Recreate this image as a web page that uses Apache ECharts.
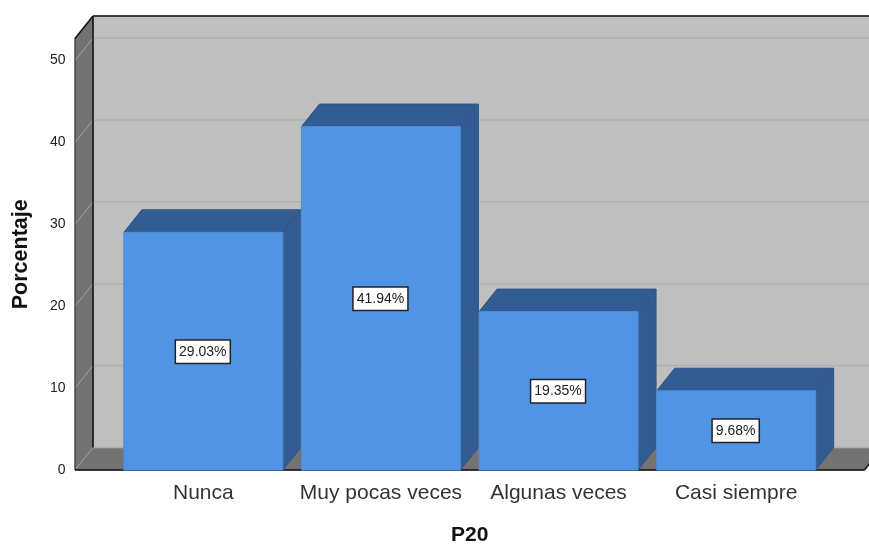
<!DOCTYPE html>
<html>
<head>
<meta charset="utf-8">
<style>
html, body { margin: 0; padding: 0; background: #fff; }
#chart { width: 869px; height: 545px; }
</style>
<script src="https://cdn.jsdelivr.net/npm/echarts@6/dist/echarts.min.js"></script>
</head>
<body>
<div id="chart"></div>
<script>
var categories = ['Nunca', 'Muy pocas veces', 'Algunas veces', 'Casi siempre'];
var percentages = [29.03, 41.94, 19.35, 9.68];
var yTicks = [0, 10, 20, 30, 40, 50];

// 3D look: depth of the box in pixels
var depthX = 18;
var depthY = -22.5;
// the walls go further than the category bands
var wallPad = 39.5;

var fontName = '"Liberation Sans", Arial, sans-serif';

function poly(points, fill, stroke) {
    return {
        type: 'polygon',
        shape: { points: points },
        style: { fill: fill, stroke: stroke || fill, lineWidth: 1 }
    };
}

function line(x1, y1, x2, y2, color, width) {
    return {
        type: 'line',
        shape: { x1: x1, y1: y1, x2: x2, y2: y2 },
        style: { stroke: color, lineWidth: width || 1 }
    };
}

function renderWalls(params, api) {
    var rect = params.coordSys;
    var left = rect.x - wallPad;
    var right = rect.x + rect.width + wallPad;
    var top = rect.y;
    var bottom = rect.y + rect.height;
    var wall = '#737373';
    var kids = [];

    kids.push(poly([[left + depthX, top + depthY], [right + depthX, top + depthY], [right + depthX, bottom + depthY], [left + depthX, bottom + depthY]], '#bfbfbf'));
    kids.push(poly([[left, top], [left + depthX, top + depthY], [left + depthX, bottom + depthY], [left, bottom]], wall));
    kids.push(poly([[left, bottom], [left + depthX, bottom + depthY], [right + depthX, bottom + depthY], [right, bottom]], wall));

    yTicks.forEach(function (t) {
        var y = api.coord([0, t])[1];
        kids.push(line(left, y, left + depthX, y + depthY, '#a3a3a3'));
        kids.push(line(left + depthX, y + depthY, right + depthX, y + depthY, '#afafaf', 1.5));
    });

    // dark edges
    kids.push(line(left, top, left, bottom, '#333333'));
    kids.push(line(left, top, left + depthX, top + depthY, '#111111', 1.5));
    kids.push(line(left + depthX, top + depthY, right + depthX, top + depthY, '#111111', 1.5));
    kids.push(line(left + depthX, top + depthY, left + depthX, bottom + depthY, '#111111', 1.5));
    kids.push(line(left, bottom, right, bottom, '#111111', 1.5));
    kids.push(line(right, bottom, right + depthX, bottom + depthY, '#111111', 1.5));
    return { type: 'group', children: kids };
}

function renderBar(params, api) {
    var idx = api.value(0);
    var val = api.value(1);
    var top = api.coord([idx, val]);
    var base = api.coord([idx, 0]);
    var w = api.size([1, 0])[0] * 0.895;
    var x0 = top[0] - w / 2;
    var x1 = top[0] + w / 2;
    var front = '#5294e4';
    var dark = '#335d92';

    return {
        type: 'group',
        children: [
            poly([[x0, top[1]], [x0 + depthX, top[1] + depthY], [x1 + depthX, top[1] + depthY], [x1, top[1]]], dark, '#2f5585'),
            poly([[x1, top[1]], [x1 + depthX, top[1] + depthY], [x1 + depthX, base[1] + depthY], [x1, base[1]]], dark, '#2f5585'),
            poly([[x0, top[1]], [x1, top[1]], [x1, base[1]], [x0, base[1]]], front, '#4f8cd6'),
            {
                type: 'text',
                x: top[0] - 0.5,
                y: (top[1] + base[1]) / 2 + 0.5,
                style: {
                    text: val.toFixed(2) + '%',
                    font: '14px ' + fontName,
                    fill: '#222222',
                    align: 'center',
                    verticalAlign: 'middle',
                    backgroundColor: '#ffffff',
                    borderColor: '#222222',
                    borderWidth: 1.5,
                    padding: [4, 3, 4, 3]
                }
            }
        ]
    };
}

var myChart = echarts.init(document.getElementById('chart'));

var option = {
    animation: false,
    backgroundColor: '#ffffff',
    grid: { left: 114.5, right: 44, top: 38.5, bottom: 75, outerBoundsMode: 'none' },
    xAxis: {
        type: 'category',
        data: categories,
        axisLine: { show: false },
        axisTick: { show: false },
        axisLabel: { margin: 13, fontSize: 21, fontFamily: fontName, color: '#333333', interval: 0 },
        name: 'P20',
        nameLocation: 'middle',
        nameGap: 55,
        nameTextStyle: { fontSize: 21, fontWeight: 'bold', fontFamily: fontName, color: '#111111' }
    },
    yAxis: {
        type: 'value',
        min: 0,
        max: 52.7,
        interval: 10,
        axisLine: { show: false },
        axisTick: { show: false },
        splitLine: { show: false },
        axisLabel: { margin: 49, fontSize: 14, fontFamily: fontName, color: '#222222', showMaxLabel: false, padding: [4, 0, 0, 0] },
        name: 'Porcentaje',
        nameLocation: 'middle',
        nameGap: 82,
        nameTextStyle: { fontSize: 21.5, fontWeight: 'bold', fontFamily: fontName, color: '#111111' }
    },
    series: [{
        type: 'custom',
        name: 'walls',
        silent: true,
        renderItem: renderWalls,
        data: [[0, 0]],
        encode: { x: 0, y: 1 },
        z: 1
    }, {
        type: 'custom',
        name: 'P20',
        renderItem: renderBar,
        data: percentages.map(function (v, i) { return [i, v]; }),
        encode: { x: 0, y: 1 },
        z: 2
    }]
};
myChart.setOption(option);
</script>
</body>
</html>
